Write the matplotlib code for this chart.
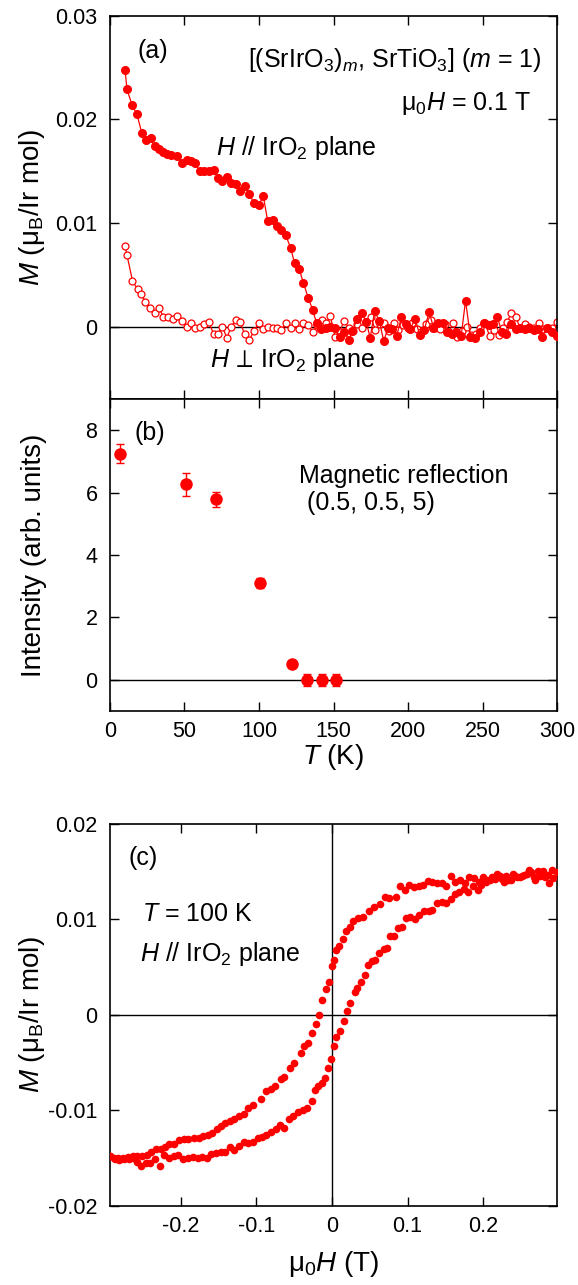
import matplotlib
matplotlib.use("Agg")
import matplotlib.pyplot as plt

plt.rcParams['font.family'] = ['Liberation Sans', 'DejaVu Sans']
plt.rcParams['mathtext.fontset'] = 'custom'
plt.rcParams['mathtext.rm'] = 'Liberation Sans'
plt.rcParams['mathtext.it'] = 'Liberation Sans:italic'
plt.rcParams['mathtext.bf'] = 'Liberation Sans:bold'
plt.rcParams['mathtext.fallback'] = 'stixsans'

RED = '#ff0000'

# (a) M vs T, H // IrO2 plane (filled)
t_par = [10.1, 11.4, 14.8, 18.1, 21.3, 24.2, 27.2, 29.9, 32.9, 35.4,
         38.3, 41.1, 45.3, 48.2, 51.4, 54.4, 57.1, 60.1, 63.1, 66.5,
         69.5, 72.5, 75.4, 78.4, 81.4, 84.3, 87.3, 90.3, 93.5, 96.7,
         99.7, 102.9, 105.8, 109.1, 112.0, 115.0, 118.0, 121.2, 123.9, 126.9,
         129.8, 133.0, 136.0, 138.7, 141.7,
         144.9, 147.9, 151.1, 154.1, 157.3, 160.3, 162.7, 165.9, 168.9, 172.1,
         174.6, 177.6, 180.8, 183.7, 186.7, 189.4, 192.4, 195.6, 198.6, 201.5,
         204.8, 207.9, 210.9, 214.2, 217.1, 220.3, 223.3, 226.3, 229.5, 232.5,
         235.7, 238.6, 241.9, 244.8, 248.0, 251.0, 254.2, 257.2, 259.9, 262.9,
         265.8, 269.1, 272.3, 275.2, 278.2, 281.4, 284.4, 287.1, 290.1, 293.1,
         296.3, 300.0]
m_par = [0.0248, 0.0229, 0.0214, 0.0205, 0.0187, 0.0180, 0.0182, 0.0174, 0.0171, 0.0169,
         0.0167, 0.0166, 0.0165, 0.0158, 0.0161, 0.0160, 0.0158, 0.0150, 0.0150, 0.0150,
         0.0151, 0.0143, 0.0141, 0.0144, 0.0139, 0.0138, 0.0131, 0.0136, 0.0128, 0.0119,
         0.0117, 0.0126, 0.0102, 0.0103, 0.0097, 0.0093, 0.0088, 0.0076, 0.0061, 0.0056,
         0.0042, 0.0028, 0.0016, 0.0003, -0.0002,
         -0.0001, 0.0000, -0.0001, -0.0010, -0.0005, -0.0013, -0.0004, 0.0007, 0.0013, 0.0004,
         -0.0011, 0.0015, 0.0005, -0.0014, -0.0001, -0.0002, -0.0009, 0.0009, 0.0002, -0.0002,
         0.0007, -0.0008, -0.0003, 0.0014, -0.0001, 0.0003, 0.0003, -0.0005, -0.0007, -0.0005,
         -0.0009, 0.0025, -0.0010, -0.0011, -0.0005, 0.0003, 0.0001, 0.0002, 0.0009, -0.0005,
         -0.0007, 0.0002, -0.0002, -0.0001, -0.0002, -0.0001, -0.0003, -0.0002, -0.0010, -0.0001,
         -0.0005, -0.0009]

# (a) H perpendicular to IrO2 plane (open)
t_perp = [10.1, 11.4, 15.1, 18.5, 21.0, 23.7, 26.7, 29.9, 32.9, 35.9,
          39.1, 42.0, 45.3, 48.2, 51.4, 54.4, 57.1, 60.1, 63.3, 66.3,
          69.5, 72.5, 75.4, 78.4, 81.4, 84.3, 87.3, 90.3, 93.5, 96.7,
          99.7, 102.9, 105.8, 109.1, 112.0, 115.0, 118.2, 121.2, 123.9, 126.9,
          129.8, 133.0, 136.0, 139.2, 142.2, 144.9, 147.9, 151.1, 154.1, 157.0,
          160.3, 163.2, 165.9, 168.9, 171.9, 175.1, 178.0, 181.3, 184.2, 187.5,
          190.4, 193.6, 196.6, 199.8, 202.8, 206.0, 209.0, 212.2, 215.2, 218.4,
          221.3, 224.5, 227.5, 230.2, 233.2, 236.2, 239.4, 242.6, 245.6, 248.5,
          251.8, 254.7, 257.9, 260.9, 263.9, 266.6, 269.1, 272.3, 275.2, 278.2,
          281.4, 284.4, 287.6, 290.6, 293.8, 296.8, 300.0]
m_perp = [0.0078, 0.0069, 0.0044, 0.0036, 0.0031, 0.0024, 0.0018, 0.0013, 0.0018, 0.0009,
          0.0009, 0.0007, 0.0010, 0.0005, 0.0000, 0.0003, -0.0001, 0.0000, 0.0002, 0.0004,
          -0.0007, -0.0007, 0.0000, -0.0011, 0.0000, 0.0006, 0.0004, -0.0007, -0.0013, -0.0004,
          0.0003, -0.0002, 0.0000, -0.0001, -0.0001, -0.0003, 0.0003, -0.0001, 0.0003, -0.0002,
          0.0003, 0.0001, -0.0005, 0.0001, 0.0006, 0.0003, 0.0010, -0.0010, -0.0005, 0.0005,
          -0.0001, -0.0004, 0.0002, -0.0001, 0.0004, 0.0009, -0.0003, 0.0002, 0.0003, -0.0004,
          0.0003, -0.0003, 0.0001, -0.0001, 0.0003, -0.0002, -0.0005, 0.0002, 0.0006, -0.0001,
          -0.0002, 0.0002, -0.0005, 0.0003, -0.0010, -0.0004, 0.0000, -0.0008, -0.0007, -0.0001,
          0.0003, -0.0009, -0.0003, -0.0008, -0.0001, 0.0004, 0.0013, 0.0009, -0.0001, 0.0002,
          0.0000, -0.0001, 0.0003, -0.0002, -0.0001, -0.0001, 0.0004]

# (b) magnetic reflection intensity
t_int = [7, 51, 71, 101, 122, 132, 142, 152]
intensity = [7.25, 6.26, 5.78, 3.09, 0.50, 0.0, 0.0, 0.0]
int_err = [0.30, 0.36, 0.23, 0.16, 0.08, 0.19, 0.19, 0.19]

# (c) M-H loop at 100 K
h_down = [0.2977, 0.2918, 0.2855, 0.2791, 0.2733, 0.2674, 0.2611, 0.2547, 0.2489, 0.2430,
          0.2367, 0.2303, 0.2245, 0.2186, 0.2123, 0.2059, 0.2001, 0.1942, 0.1879, 0.1815,
          0.1757, 0.1698, 0.1635, 0.1571, 0.1513, 0.1454, 0.1391, 0.1327, 0.1269, 0.1210,
          0.1147, 0.1083, 0.1025, 0.0966, 0.0903, 0.0854, 0.0756, 0.0708, 0.0634, 0.0561,
          0.0488, 0.0415, 0.0342, 0.0283, 0.0234, 0.0185, 0.0146, 0.0098, 0.0059, 0.0024,
          0.0000, -0.0034, -0.0083, -0.0132, -0.0171, -0.0210, -0.0268, -0.0317, -0.0366, -0.0415,
          -0.0503, -0.0551, -0.0634, -0.0673, -0.0756, -0.0805, -0.0878, -0.0937, -0.1049, -0.1113,
          -0.1171, -0.1230, -0.1293, -0.1357, -0.1415, -0.1474, -0.1523, -0.1586, -0.1645, -0.1708,
          -0.1767, -0.1830, -0.1903, -0.1962, -0.2025, -0.2098, -0.2157, -0.2211, -0.2269, -0.2333,
          -0.2391, -0.2450, -0.2513, -0.2577, -0.2635, -0.2708, -0.2772, -0.2830, -0.2889, -0.2943]
m_down = [0.0150, 0.0152, 0.0147, 0.0151, 0.0151, 0.0144, 0.0152, 0.0147, 0.0144, 0.0146,
          0.0141, 0.0145, 0.0142, 0.0148, 0.0144, 0.0141, 0.0144, 0.0139, 0.0143, 0.0144,
          0.0138, 0.0141, 0.0139, 0.0146, 0.0135, 0.0138, 0.0138, 0.0139, 0.0140, 0.0136,
          0.0135, 0.0134, 0.0136, 0.0131, 0.0135, 0.0124, 0.0122, 0.0123, 0.0116, 0.0113,
          0.0109, 0.0103, 0.0102, 0.0098, 0.0092, 0.0088, 0.0080, 0.0072, 0.0068, 0.0058,
          0.0051, 0.0034, 0.0027, 0.0016, 0.0000, -0.0009, -0.0019, -0.0029, -0.0032, -0.0040,
          -0.0050, -0.0056, -0.0065, -0.0067, -0.0074, -0.0078, -0.0080, -0.0088, -0.0094, -0.0097,
          -0.0104, -0.0106, -0.0109, -0.0111, -0.0113, -0.0116, -0.0119, -0.0124, -0.0126, -0.0127,
          -0.0129, -0.0129, -0.0130, -0.0130, -0.0131, -0.0135, -0.0135, -0.0138, -0.0140, -0.0140,
          -0.0144, -0.0147, -0.0148, -0.0148, -0.0148, -0.0149, -0.0150, -0.0150, -0.0150, -0.0148]
h_up = [-0.2943, -0.2879, -0.2821, -0.2757, -0.2694, -0.2635, -0.2577, -0.2528, -0.2464, -0.2406,
        -0.2342, -0.2284, -0.2220, -0.2157, -0.2098, -0.2040, -0.1976, -0.1903, -0.1845, -0.1781,
        -0.1718, -0.1659, -0.1601, -0.1537, -0.1474, -0.1415, -0.1357, -0.1293, -0.1230, -0.1171,
        -0.1113, -0.1049, -0.0986, -0.0927, -0.0869, -0.0805, -0.0742, -0.0683, -0.0634, -0.0576,
        -0.0512, -0.0449, -0.0390, -0.0332, -0.0268, -0.0229, -0.0185, -0.0137, -0.0088, -0.0049,
        -0.0010, 0.0024, 0.0049, 0.0107, 0.0156, 0.0195, 0.0244, 0.0303, 0.0332, 0.0390,
        0.0439, 0.0478, 0.0527, 0.0576, 0.0625, 0.0683, 0.0722, 0.0771, 0.0820, 0.0869,
        0.0927, 0.0976, 0.1035, 0.1098, 0.1157, 0.1220, 0.1279, 0.1327, 0.1391, 0.1454,
        0.1513, 0.1571, 0.1635, 0.1684, 0.1747, 0.1806, 0.1864, 0.1927, 0.1976, 0.2040,
        0.2098, 0.2157, 0.2220, 0.2284, 0.2333, 0.2391, 0.2450, 0.2513, 0.2577, 0.2635,
        0.2694, 0.2757, 0.2821, 0.2879, 0.2928]
m_up = [-0.0148, -0.0151, -0.0152, -0.0151, -0.0151, -0.0150, -0.0154, -0.0158, -0.0155, -0.0155,
        -0.0151, -0.0158, -0.0147, -0.0150, -0.0148, -0.0147, -0.0151, -0.0150, -0.0149, -0.0150,
        -0.0149, -0.0150, -0.0146, -0.0145, -0.0143, -0.0143, -0.0138, -0.0141, -0.0137, -0.0133,
        -0.0134, -0.0133, -0.0129, -0.0128, -0.0126, -0.0123, -0.0119, -0.0115, -0.0118, -0.0109,
        -0.0106, -0.0102, -0.0099, -0.0097, -0.0090, -0.0079, -0.0074, -0.0071, -0.0066, -0.0056,
        -0.0046, -0.0033, -0.0023, -0.0017, -0.0006, 0.0004, 0.0013, 0.0024, 0.0028, 0.0035,
        0.0042, 0.0052, 0.0056, 0.0058, 0.0065, 0.0069, 0.0070, 0.0083, 0.0083, 0.0091,
        0.0092, 0.0101, 0.0103, 0.0100, 0.0105, 0.0109, 0.0109, 0.0110, 0.0117, 0.0118,
        0.0117, 0.0121, 0.0127, 0.0129, 0.0132, 0.0129, 0.0135, 0.0131, 0.0136, 0.0139,
        0.0141, 0.0142, 0.0146, 0.0139, 0.0141, 0.0148, 0.0144, 0.0146, 0.0148, 0.0150,
        0.0141, 0.0146, 0.0144, 0.0138, 0.0143]

t_ticks = [0, 50, 100, 150, 200, 250, 300]
a_yticks = [0, 0.01, 0.02, 0.03]
a_ylabels = ['0', '0.01', '0.02', '0.03']
b_yticks = [0, 2, 4, 6, 8]
c_xticks = [-0.2, -0.1, 0, 0.1, 0.2]
c_xlabels = ['-0.2', '-0.1', '0', '0.1', '0.2']
c_yticks = [-0.02, -0.01, 0, 0.01, 0.02]
c_ylabels = ['-0.02', '-0.01', '0', '0.01', '0.02']

TICK_FS = 15.5
ANN_FS = 18
LAB_FS = 20

fig = plt.figure(figsize=(5.78, 12.85), dpi=100)
ax_a = fig.add_axes([0.1903, 0.6895, 0.7734, 0.2981])
ax_b = fig.add_axes([0.1903, 0.4467, 0.7734, 0.2428])
ax_c = fig.add_axes([0.1903, 0.0615, 0.7734, 0.2973])


def style(ax):
    for s in ax.spines.values():
        s.set_linewidth(1.2)
    ax.tick_params(direction='in', length=6.5, width=1.0, top=True, right=True,
                   labelsize=TICK_FS)
    ax.tick_params(axis='y', pad=9)
    ax.tick_params(axis='x', pad=7)


# ---- (a)
ax_a.axhline(0, color='black', lw=1.0, zorder=1)
ax_a.plot(t_perp, m_perp, '-o', color=RED, lw=0.9, ms=5, mfc='white', mec=RED, mew=0.9, zorder=2)
ax_a.plot(t_par, m_par, '-o', color=RED, lw=0.9, ms=5.5, mec=RED, zorder=3)
ax_a.set_xlim(0, 300)
ax_a.set_ylim(-0.007, 0.03)
ax_a.set_xticks(t_ticks)
ax_a.set_xticklabels([])
ax_a.set_yticks(a_yticks)
ax_a.set_yticklabels(a_ylabels)
style(ax_a)
ax_a.set_ylabel(r'$M$ ($\mathrm{\mu_B}$/Ir mol)', fontsize=LAB_FS)
ax_a.yaxis.set_label_coords(-0.14, 0.5)
ax_a.text(0.096, 0.909, '(a)', transform=ax_a.transAxes, fontsize=ANN_FS, ha='center', va='center')
ax_a.text(0.966, 0.867, r'[(SrIrO$_3$)$_m$, SrTiO$_3$] ($m$ = 1)', transform=ax_a.transAxes,
          fontsize=ANN_FS, ha='right', va='baseline')
ax_a.text(0.942, 0.755, r'$\mathrm{\mu_0}H$ = 0.1 T', transform=ax_a.transAxes,
          fontsize=ANN_FS, ha='right', va='baseline')
ax_a.text(0.237, 0.637, r'$H$ // IrO$_2$ plane', transform=ax_a.transAxes,
          fontsize=ANN_FS, ha='left', va='baseline')
ax_a.text(0.224, 0.084, r'$H\,\perp\,$IrO$_2$ plane', transform=ax_a.transAxes,
          fontsize=ANN_FS, ha='left', va='baseline')

# ---- (b)
ax_b.axhline(0, color='black', lw=1.0, zorder=1)
ax_b.errorbar(t_int, intensity, yerr=int_err, fmt='o', color=RED, ms=8, capsize=3,
              elinewidth=1.0, capthick=1.0, zorder=3)
ax_b.set_xlim(0, 300)
ax_b.set_ylim(-1, 9)
ax_b.set_xticks(t_ticks)
ax_b.set_yticks(b_yticks)
style(ax_b)
ax_b.set_ylabel('Intensity (arb. units)', fontsize=LAB_FS)
ax_b.yaxis.set_label_coords(-0.14, 0.5)
ax_b.set_xlabel(r'$T$ (K)', fontsize=LAB_FS, labelpad=0)
ax_b.text(0.0886, 0.890, '(b)', transform=ax_b.transAxes, fontsize=ANN_FS, ha='center', va='center')
ax_b.text(0.423, 0.732, 'Magnetic reflection', transform=ax_b.transAxes,
          fontsize=ANN_FS, ha='left', va='baseline')
ax_b.text(0.440, 0.644, '(0.5, 0.5, 5)', transform=ax_b.transAxes,
          fontsize=ANN_FS, ha='left', va='baseline')

# ---- (c)
ax_c.axhline(0, color='black', lw=1.0, zorder=1)
ax_c.axvline(0, color='black', lw=1.0, zorder=1)
ax_c.plot(h_down, m_down, 'o', color=RED, ms=5.5, mew=0, zorder=3)
ax_c.plot(h_up, m_up, 'o', color=RED, ms=5.5, mew=0, zorder=3)
ax_c.set_xlim(-0.294, 0.298)
ax_c.set_ylim(-0.02, 0.02)
ax_c.set_xticks(c_xticks)
ax_c.set_xticklabels(c_xlabels)
ax_c.set_yticks(c_yticks)
ax_c.set_yticklabels(c_ylabels)
style(ax_c)
ax_c.set_ylabel(r'$M$ ($\mathrm{\mu_B}$/Ir mol)', fontsize=LAB_FS)
ax_c.yaxis.set_label_coords(-0.14, 0.5)
ax_c.set_xlabel(r'$\mathrm{\mu_0}H$ (T)', fontsize=LAB_FS, labelpad=9)
ax_c.text(0.075, 0.911, '(c)', transform=ax_c.transAxes, fontsize=ANN_FS, ha='center', va='center')
ax_c.text(0.0716, 0.747, r'$T$ = 100 K', transform=ax_c.transAxes,
          fontsize=ANN_FS, ha='left', va='baseline')
ax_c.text(0.067, 0.640, r'$H$ // IrO$_2$ plane', transform=ax_c.transAxes,
          fontsize=ANN_FS, ha='left', va='baseline')

fig.savefig('out.png', dpi=100)
